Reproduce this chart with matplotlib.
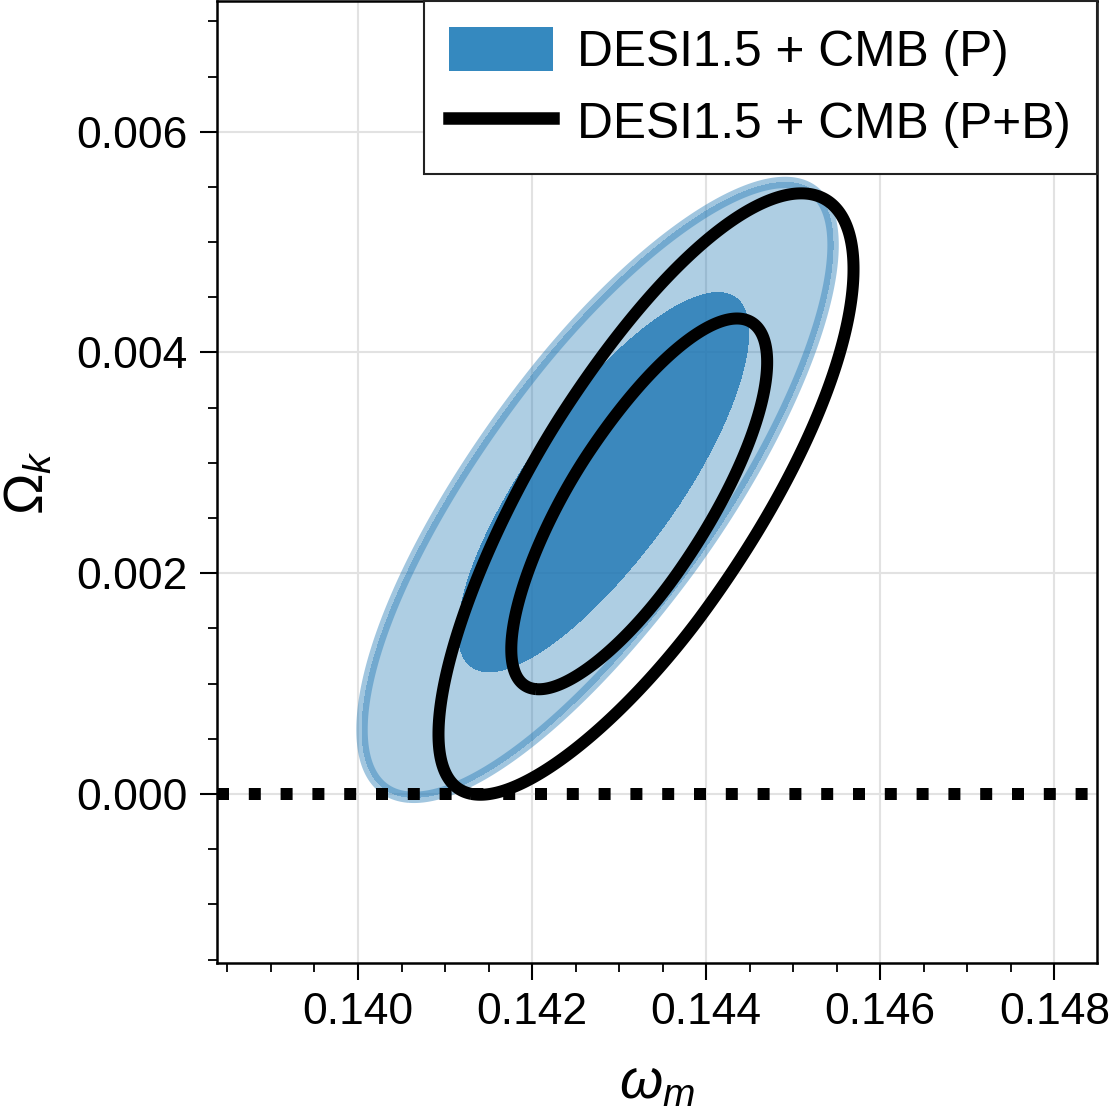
import numpy as np
import matplotlib
matplotlib.use('Agg')
import matplotlib.pyplot as plt
from matplotlib.patches import Patch
from matplotlib.lines import Line2D
from matplotlib.ticker import MultipleLocator, FormatStrFormatter, FixedLocator

plt.rcParams['font.family'] = ['Liberation Sans', 'DejaVu Sans']
plt.rcParams['mathtext.fontset'] = 'custom'
plt.rcParams['mathtext.rm'] = 'Liberation Sans'
plt.rcParams['mathtext.it'] = 'Liberation Sans:italic'
plt.rcParams['mathtext.bf'] = 'Liberation Sans:bold'

# ---- data: approximated 2D posteriors (omega_m, Omega_k) ----
# mode, widths, correlation, split-asymmetry and width-growth along the degeneracy
labels = ['DESI1.5 + CMB (P)', 'DESI1.5 + CMB (P+B)']
mean_wm = [0.142920, 0.143122]
mean_ok = [0.002928, 0.002504]
sigma_wm = [0.0011053, 0.0009734]
sigma_ok = [0.0011377, 0.0011122]
corr = [0.7885, 0.7750]
split = [-0.0632, 0.0755]
widen = [-0.0171, 0.0328]
conf_levels = [0.68, 0.95]
xticks = [0.140, 0.142, 0.144, 0.146, 0.148]
yticks = [0.000, 0.002, 0.004, 0.006]
xlim = (0.13838, 0.14849)
ylim = (-0.001531, 0.007184)
ref_ok = 0.0

def chi2_grid(X, Y, mx, my, sx, sy, r, s, k):
    u = (X - mx) / sx
    v = (Y - my) / sy
    a = (u + v) / np.sqrt(2)
    b = (v - u) / np.sqrt(2)
    a_s = np.where(a > 0, a / (1 + s), a / (1 - s))
    return a_s**2 / (1 + r) + b**2 / ((1 - r) * np.exp(2 * k * a_s))

lev = sorted(-2 * np.log(1 - np.array(conf_levels)))  # [2.28, 5.99]

fig = plt.figure(figsize=(11.09, 11.13), dpi=100)
ax = fig.add_axes([217/1109, 150/1113, 880/1109, 962/1113])

gx = np.linspace(xlim[0], xlim[1], 900)
gy = np.linspace(ylim[0], ylim[1], 900)
X, Y = np.meshgrid(gx, gy)

blue = '#1f77b4'
# P: filled contours
C0 = chi2_grid(X, Y, mean_wm[0], mean_ok[0], sigma_wm[0], sigma_ok[0], corr[0], split[0], widen[0])
ax.contourf(X, Y, C0, levels=[0, lev[1]], colors=[blue], alpha=0.36, zorder=2)
ax.contourf(X, Y, C0, levels=[0, lev[0]], colors=[blue], alpha=0.8, zorder=3)
ax.contour(X, Y, C0, levels=[lev[1]], colors=[blue], alpha=0.42, linewidths=8.2, zorder=4)

# P+B: line contours
C1 = chi2_grid(X, Y, mean_wm[1], mean_ok[1], sigma_wm[1], sigma_ok[1], corr[1], split[1], widen[1])
ax.contour(X, Y, C1, levels=lev, colors='k', linewidths=8.64, zorder=5)

ax.axhline(ref_ok, color='k', ls=':', lw=8.64, zorder=6)

ax.set_xlim(*xlim)
ax.set_ylim(*ylim)
ax.xaxis.set_major_locator(FixedLocator(xticks))
ax.yaxis.set_major_locator(FixedLocator(yticks))
ax.xaxis.set_minor_locator(MultipleLocator(0.0005))
ax.yaxis.set_minor_locator(MultipleLocator(0.0005))
ax.xaxis.set_major_formatter(FormatStrFormatter('%.3f'))
ax.yaxis.set_major_formatter(FormatStrFormatter('%.3f'))
ax.tick_params(which='major', length=12.2, width=1.5, labelsize=32)
ax.tick_params(axis='x', which='major', pad=9)
ax.tick_params(axis='y', which='major', pad=9)
ax.tick_params(which='minor', length=6.5, width=1.3)
for s_ in ax.spines.values():
    s_.set_linewidth(1.8)
ax.grid(True, which='major', color='#e2e2e2', lw=1.5)
ax.set_axisbelow(True)

ax.set_xlabel(r'$\omega_m$', fontsize=40, labelpad=18)
ax.set_ylabel(r'$\Omega_k$', fontsize=40, labelpad=15)

handles = [Patch(facecolor='#3589bf', edgecolor='none'),
           Line2D([], [], color='k', lw=9.0, solid_capstyle='projecting')]
leg = ax.legend(handles, labels, loc='upper right', fontsize=35.7, frameon=True,
                fancybox=False, edgecolor='#222222', framealpha=1,
                borderaxespad=0, handlelength=2.08, handleheight=1.0,
                handletextpad=0.5, labelspacing=0.46, borderpad=0.52)
leg.get_frame().set_linewidth(1.5)
leg.set_zorder(10)

fig.savefig('out.png', dpi=100)
